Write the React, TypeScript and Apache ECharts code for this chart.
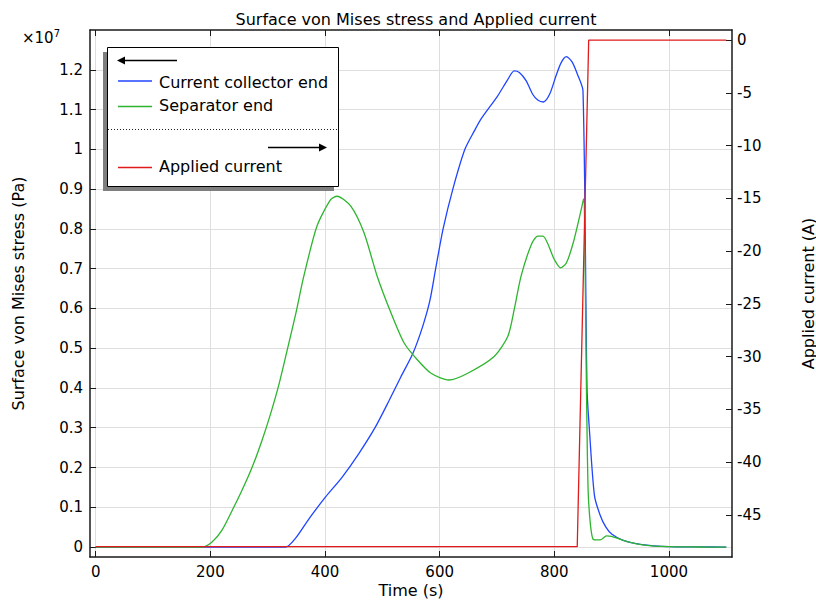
import React, { useEffect, useRef } from "react";
import * as echarts from "echarts";

// Tick values
const timeTicks = [0, 200, 400, 600, 800, 1000];
const stressTicks = [0, 0.1, 0.2, 0.3, 0.4, 0.5, 0.6, 0.7, 0.8, 0.9, 1, 1.1, 1.2];
const currentTicks = [0, -5, -10, -15, -20, -25, -30, -35, -40, -45];

// Current collector end (stress in units of 1e7 Pa)
const ccTime = [0, 331, 349, 372, 401, 430, 459, 488, 512, 532, 553, 570, 583, 593, 606, 623, 644, 660, 672, 701, 719, 730, 739, 751, 762, 771, 781, 792, 803, 812, 821, 831, 840, 850, 857, 861, 870, 880, 890, 900, 920, 950, 1000, 1050, 1100];
const ccStress = [0, 0, 0.023, 0.071, 0.126, 0.176, 0.235, 0.302, 0.369, 0.427, 0.486, 0.553, 0.62, 0.7, 0.8, 0.9, 1.0, 1.045, 1.076, 1.134, 1.176, 1.197, 1.193, 1.172, 1.139, 1.124, 1.119, 1.139, 1.185, 1.218, 1.233, 1.22, 1.19, 1.147, 0.4, 0.3, 0.13, 0.08, 0.05, 0.033, 0.017, 0.007, 0.001, 0.0003, 0];

// Separator end (stress in units of 1e7 Pa)
const sepTime = [0, 185, 203, 220, 238, 255, 273, 290, 305, 320, 334, 349, 363, 386, 410, 421, 445, 468, 491, 515, 538, 561, 585, 616, 649, 695, 719, 730, 742, 760, 771, 780, 800, 811, 821, 833, 847, 851, 859, 868, 880, 891, 900, 929, 957, 1000, 1050, 1100];
const sepStress = [0, 0, 0.013, 0.042, 0.092, 0.142, 0.201, 0.268, 0.335, 0.411, 0.495, 0.587, 0.681, 0.807, 0.874, 0.882, 0.857, 0.79, 0.681, 0.589, 0.513, 0.471, 0.437, 0.42, 0.437, 0.479, 0.53, 0.597, 0.681, 0.761, 0.782, 0.782, 0.723, 0.702, 0.714, 0.765, 0.849, 0.876, 0.143, 0.019, 0.018, 0.028, 0.027, 0.013, 0.005, 0.001, 0.0002, 0];

// Applied current (A)
const appliedTime = [0, 840, 860, 1100];
const appliedCurrent = [-48, -48, 0, 0];

const BLUE = "#1f45ff";
const GREEN = "#2db52d";
const RED = "#e01b1b";
const FONT = "DejaVu Sans";

const pairs = (xs: number[], ys: number[]) => xs.map((x, i) => [x, ys[i]]);

export default function App() {
  const ref = useRef<HTMLDivElement>(null);

  useEffect(() => {
    document.body.style.margin = "0";
    if (!ref.current) return;
    const chart = echarts.init(ref.current, undefined, { renderer: "svg" });

    const axisLineStyle = { color: "#1a1a1a", width: 1.5 };
    const tickStyle = { color: "#1a1a1a", width: 1 };

    const option: any = {
      animation: false,
      backgroundColor: "#ffffff",
      textStyle: { fontFamily: FONT },
      title: {
        text: "Surface von Mises stress and Applied current",
        left: 411,
        textAlign: "center",
        top: 6,
        textStyle: { fontFamily: FONT, fontSize: 16, fontWeight: "normal", color: "#000" },
      },
      grid: { left: 90, right: 84, top: 30, bottom: 43, containLabel: false, outerBoundsMode: "none" },
      xAxis: [
        {
          type: "value",
          position: "bottom",
          min: -10,
          max: 1110,
          name: "Time (s)",
          nameLocation: "middle",
          nameGap: 26,
          nameMoveOverlap: false,
          nameTextStyle: { fontFamily: FONT, fontSize: 16, color: "#000", lineHeight: 14 },
          axisLine: { show: true, onZero: false, lineStyle: axisLineStyle },
          axisTick: { show: true, inside: true, length: 6, customValues: timeTicks, lineStyle: tickStyle },
          axisLabel: {
            customValues: timeTicks,
            fontFamily: FONT,
            fontSize: 15,
            lineHeight: 13,
            color: "#000",
            margin: 8,
            formatter: (v: number) => String(Math.round(v)),
          },
          splitLine: { show: true, lineStyle: { color: "#dedede", width: 1 } },
        },
        {
          type: "value",
          position: "top",
          min: -10,
          max: 1110,
          axisLine: { show: true, onZero: false, lineStyle: axisLineStyle },
          axisTick: { show: true, inside: true, length: 6, customValues: timeTicks, lineStyle: tickStyle },
          axisLabel: { show: false },
          splitLine: { show: false },
        },
      ],
      yAxis: [
        {
          type: "value",
          position: "left",
          min: -0.025,
          max: 1.3,
          name: "Surface von Mises stress (Pa)",
          nameLocation: "middle",
          nameGap: 64,
          nameRotate: 90,
          nameMoveOverlap: false,
          nameTextStyle: { fontFamily: FONT, fontSize: 16, color: "#000" },
          axisLine: { show: true, onZero: false, lineStyle: axisLineStyle },
          axisTick: { show: true, inside: true, length: 6, customValues: stressTicks, lineStyle: tickStyle },
          axisLabel: {
            customValues: stressTicks,
            fontFamily: FONT,
            fontSize: 15,
            color: "#000",
            margin: 7,
            formatter: (v: number) => String(Number(v.toFixed(1))),
          },
          splitLine: { show: true, lineStyle: { color: "#dedede", width: 1 } },
        },
        {
          type: "value",
          position: "right",
          min: -48.98,
          max: 0.95,
          name: "Applied current (A)",
          nameLocation: "middle",
          nameGap: 68,
          nameRotate: 90,
          nameMoveOverlap: false,
          nameTextStyle: { fontFamily: FONT, fontSize: 16, color: "#000" },
          axisLine: { show: true, onZero: false, lineStyle: axisLineStyle },
          axisTick: { show: true, inside: true, length: 6, customValues: currentTicks, lineStyle: tickStyle },
          axisLabel: {
            customValues: currentTicks,
            fontFamily: FONT,
            fontSize: 15,
            color: "#000",
            margin: 5,
            formatter: (v: number) => String(Math.round(v)),
          },
          splitLine: { show: false },
        },
      ],
      series: [
        {
          name: "Current collector end",
          type: "line",
          xAxisIndex: 0,
          yAxisIndex: 0,
          data: pairs(ccTime, ccStress),
          showSymbol: false,
          symbol: "none",
          smooth: 0.25,
          lineStyle: { color: BLUE, width: 1.3 },
          itemStyle: { color: BLUE },
        },
        {
          name: "Separator end",
          type: "line",
          xAxisIndex: 0,
          yAxisIndex: 0,
          data: pairs(sepTime, sepStress),
          showSymbol: false,
          symbol: "none",
          smooth: 0.25,
          lineStyle: { color: GREEN, width: 1.3 },
          itemStyle: { color: GREEN },
        },
        {
          name: "Applied current",
          type: "line",
          xAxisIndex: 0,
          yAxisIndex: 1,
          data: pairs(appliedTime, appliedCurrent),
          showSymbol: false,
          symbol: "none",
          lineStyle: { color: RED, width: 1.3 },
          itemStyle: { color: RED },
        },
      ],
      graphic: [
        {
          type: "text",
          left: 22,
          top: 28,
          style: {
            text: "×10{s|7}",
            fontFamily: FONT,
            fontSize: 15,
            fill: "#000",
            rich: { s: { fontSize: 10, fontFamily: FONT, verticalAlign: "top", padding: [0, 0, 10, 0] } },
          },
          z: 100,
        },
        { type: "rect", shape: { x: 103, y: 52, width: 231, height: 139 }, style: { fill: "#7f7f7f" }, z: 100 },
        {
          type: "rect",
          shape: { x: 107.5, y: 47.5, width: 231, height: 139 },
          style: { fill: "#ffffff", stroke: "#000", lineWidth: 1 },
          z: 101,
        },
        { type: "line", shape: { x1: 122, y1: 60.5, x2: 177, y2: 60.5 }, style: { stroke: "#000", lineWidth: 1.5 }, z: 102 },
        { type: "polygon", shape: { points: [[117, 60.5], [125, 56.5], [125, 64.5]] }, style: { fill: "#000" }, z: 102 },
        { type: "line", shape: { x1: 118, y1: 81, x2: 152, y2: 81 }, style: { stroke: BLUE, lineWidth: 1.5 }, z: 102 },
        {
          type: "text",
          x: 159,
          y: 82,
          style: { text: "Current collector end", fontFamily: FONT, fontSize: 16, fill: "#000", verticalAlign: "middle" },
          z: 102,
        },
        { type: "line", shape: { x1: 118, y1: 106.5, x2: 152, y2: 106.5 }, style: { stroke: GREEN, lineWidth: 1.5 }, z: 102 },
        {
          type: "text",
          x: 159,
          y: 105.5,
          style: { text: "Separator end", fontFamily: FONT, fontSize: 16, fill: "#000", verticalAlign: "middle" },
          z: 102,
        },
        {
          type: "line",
          shape: { x1: 108, y1: 129.5, x2: 338, y2: 129.5 },
          style: { stroke: "#222", lineWidth: 1, lineDash: [1, 2] },
          z: 102,
        },
        { type: "line", shape: { x1: 268, y1: 147.5, x2: 322, y2: 147.5 }, style: { stroke: "#000", lineWidth: 1.5 }, z: 102 },
        { type: "polygon", shape: { points: [[327, 147.5], [319, 143.5], [319, 151.5]] }, style: { fill: "#000" }, z: 102 },
        { type: "line", shape: { x1: 118, y1: 167.5, x2: 152, y2: 167.5 }, style: { stroke: RED, lineWidth: 1.5 }, z: 102 },
        {
          type: "text",
          x: 159,
          y: 166.5,
          style: { text: "Applied current", fontFamily: FONT, fontSize: 16, fill: "#000", verticalAlign: "middle" },
          z: 102,
        },
      ],
    };

    chart.setOption(option);
    return () => {
      chart.dispose();
    };
  }, []);

  return <div ref={ref} style={{ position: "fixed", left: 0, top: 0, width: 816, height: 600 }} />;
}
